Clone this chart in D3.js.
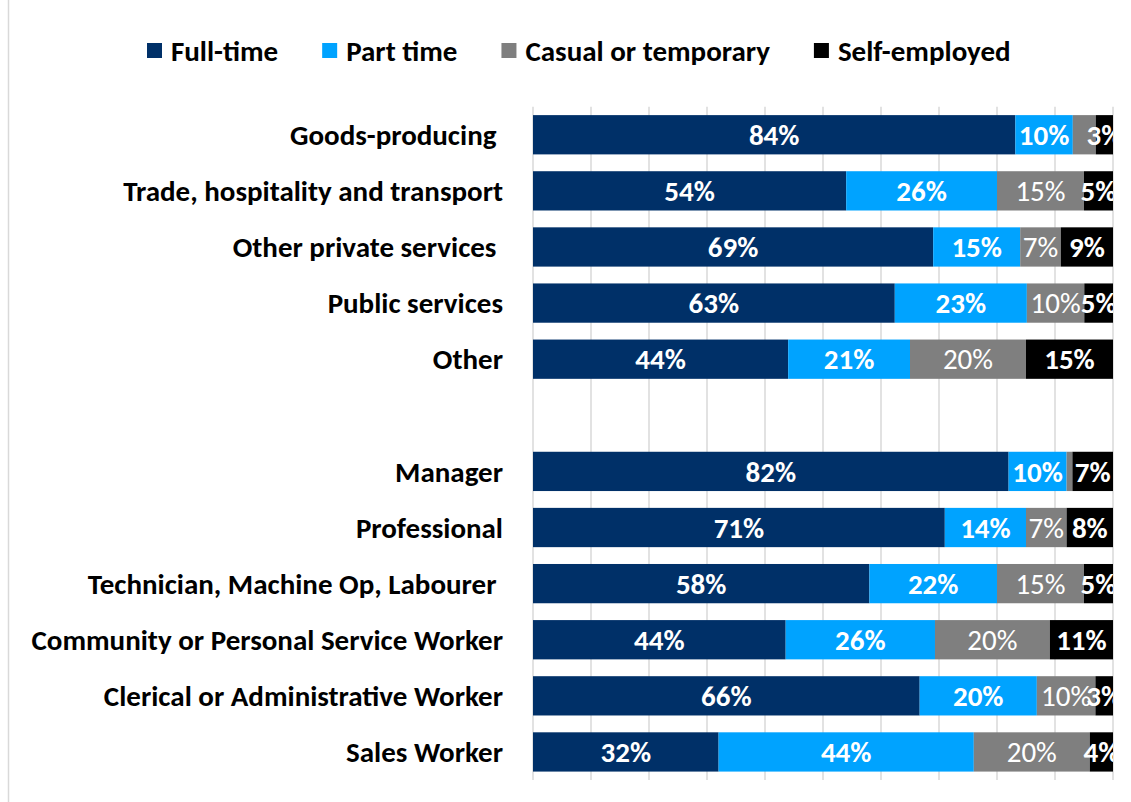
<!DOCTYPE html>
<html lang="en">
<head>
    <meta charset="UTF-8">
    <title>Employment type by industry and occupation</title>
    <script src="https://d3js.org/d3.v7.min.js"></script>
    <style>
        body {
            margin: 0;
            background-color: #ffffff;
        }
        svg text {
            font-family: Carlito, 'Open Sans', Lato, sans-serif;
            font-weight: bold;
            white-space: pre;
        }
    </style>
</head>
<body>
    <svg width="1131" height="802"></svg>

    <script>
        // data (raw %, each row gets normalised like a 100% stacked bar)
        const categories = [
            "Goods-producing ",
            "Trade, hospitality and transport",
            "Other private services ",
            "Public services",
            "Other",
            "",
            "Manager",
            "Professional",
            "Technician, Machine Op, Labourer ",
            "Community or Personal Service Worker",
            "Clerical or Administrative Worker",
            "Sales Worker"
        ];
        const seriesNames = ["Full-time", "Part time", "Casual or temporary", "Self-employed"];
        const fullTime     = [84, 54, 69, 63, 44, null, 82, 71, 58, 44, 66, 32];
        const partTime     = [10, 26, 15, 23, 21, null, 10, 14, 22, 26, 20, 44];
        const casual       = [ 4, 15,  7, 10, 20, null,  1,  7, 15, 20, 10, 20];
        const selfEmployed = [ 3,  5,  9,  5, 15, null,  7,  8,  5, 11,  3,  4];
        const xTicks = [0, 10, 20, 30, 40, 50, 60, 70, 80, 90, 100];

        const colors = ["#003068", "#00A3FF", "#7F7F7F", "#000000"];
        const labelWeight = ["bold", "bold", "normal", "bold"];
        const fontSize = 29;

        const svg = d3.select("svg");
        const plot = { left: 533, right: 1113, top: 106.7, bottom: 780 };

        // build the table for d3.stack
        const table = categories.map((c, i) => ({
            cat: c,
            vals: [fullTime[i], partTime[i], casual[i], selfEmployed[i]]
        }));
        const rows = table.filter(d => d.vals[0] !== null);

        const x = d3.scaleLinear()
                    .domain([0, 100])
                    .range([plot.left, plot.right]);

        const y = d3.scaleBand()
                    .domain(categories)
                    .range([plot.top, plot.bottom])
                    .paddingInner(0.3)
                    .paddingOuter(0.15);

        // chart frame edge on the left
        svg.append("line")
           .attr("x1", 8.5).attr("x2", 8.5)
           .attr("y1", 0).attr("y2", 802)
           .attr("stroke", "#d9d9d9")
           .attr("stroke-width", 1.5);

        // vertical gridlines
        svg.append("g")
           .selectAll("line")
           .data(xTicks)
           .join("line")
           .attr("x1", d => x(d)).attr("x2", d => x(d))
           .attr("y1", plot.top).attr("y2", plot.bottom)
           .attr("stroke", "#d9d9d9")
           .attr("stroke-width", 1.5);

        // stacking, normalised per row
        const stackData = rows.map(r => {
            const total = d3.sum(r.vals);
            const o = { cat: r.cat };
            seriesNames.forEach((s, k) => { o[s] = r.vals[k] / total * 100; o[s + "_raw"] = r.vals[k]; });
            return o;
        });
        const stacked = d3.stack().keys(seriesNames)(stackData);

        svg.append("defs")
           .append("clipPath")
           .attr("id", "plotClip")
           .append("rect")
           .attr("x", plot.left).attr("y", 0)
           .attr("width", plot.right - plot.left).attr("height", 802);

        const layers = svg.append("g")
                          .selectAll("g")
                          .data(stacked)
                          .join("g")
                          .attr("fill", (d, k) => colors[k]);

        layers.selectAll("rect")
              .data(d => d)
              .join("rect")
              .attr("x", d => x(d[0]))
              .attr("y", d => y(d.data.cat))
              .attr("width", d => x(d[1]) - x(d[0]))
              .attr("height", y.bandwidth());

        // data labels (casual labels under 5% were left off in the original)
        const labelG = svg.append("g").attr("clip-path", "url(#plotClip)");
        stacked.forEach((layer, k) => {
            labelG.append("g")
                  .selectAll("text")
                  .data(layer.filter(d => !(k === 2 && d.data[layer.key + "_raw"] < 5)))
                  .join("text")
                  .attr("x", d => (x(d[0]) + x(d[1])) / 2)
                  .attr("y", d => y(d.data.cat) + y.bandwidth() / 2)
                  .attr("dy", "0.35em")
                  .attr("text-anchor", "middle")
                  .attr("fill", "#ffffff")
                  .style("font-size", fontSize + "px")
                  .style("font-weight", labelWeight[k])
                  .text(d => d.data[layer.key + "_raw"] + "%");
        });

        // category labels
        svg.append("g")
           .selectAll("text")
           .data(categories)
           .join("text")
           .attr("xml:space", "preserve")
           .attr("x", 503)
           .attr("y", d => y(d) + y.bandwidth() / 2)
           .attr("dy", "0.35em")
           .attr("text-anchor", "end")
           .attr("fill", "#000000")
           .style("font-size", fontSize + "px")
           .text(d => d);

        // legend
        const legend = svg.append("g");
        let lx = 147;
        seriesNames.forEach((s, k) => {
            legend.append("rect")
                  .attr("x", lx).attr("y", 43)
                  .attr("width", 15).attr("height", 15)
                  .attr("fill", colors[k]);
            const t = legend.append("text")
                  .attr("x", lx + 24)
                  .attr("y", 50.5)
                  .attr("dy", "0.35em")
                  .attr("fill", "#000000")
                  .style("font-size", fontSize + "px")
                  .text(s);
            lx += 24 + t.node().getComputedTextLength() + 44;
        });
    </script>
</body>
</html>
